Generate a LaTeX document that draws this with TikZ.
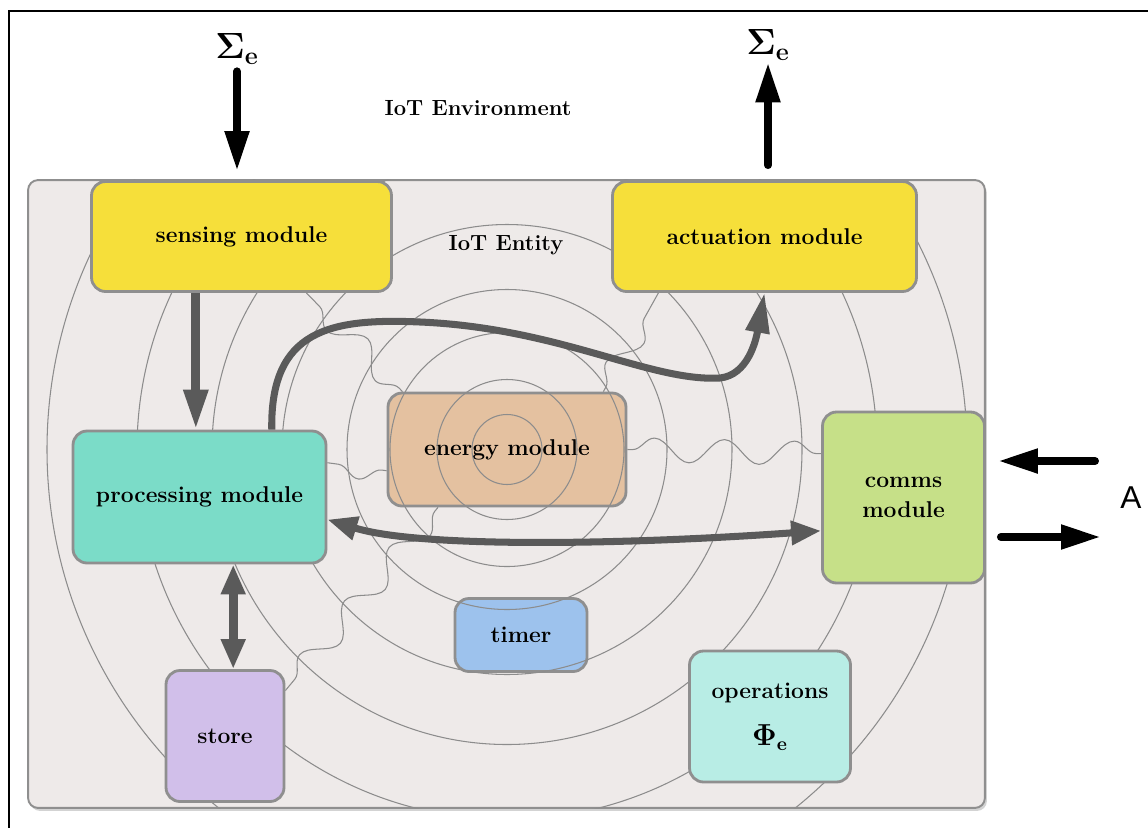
\documentclass[tikz,border=0pt]{standalone}
\usepackage[no-math]{fontspec}
\newfontfamily\labelfont{Liberation Sans}
\usetikzlibrary{arrows.meta,decorations.pathmorphing,shadows}
\pgfdeclarelayer{bottom}
\pgfdeclarelayer{back}
\pgfsetlayers{bottom,back,main}
\definecolor{modyellow}{RGB}{246,223,58}
\definecolor{modteal}{RGB}{123,220,200}
\definecolor{modorange}{RGB}{228,193,160}
\definecolor{modgreen}{RGB}{198,224,136}
\definecolor{modblue}{RGB}{157,194,237}
\definecolor{modlilac}{RGB}{209,191,234}
\definecolor{modaqua}{RGB}{184,237,229}
\definecolor{entfill}{RGB}{238,234,233}
\definecolor{bordergray}{RGB}{143,143,143}
\definecolor{arrgray}{RGB}{90,90,90}
\definecolor{ringgray}{RGB}{140,140,140}
\begin{document}
\begin{tikzpicture}[x=0.02cm,y=-0.02cm]
	\tikzstyle{MOD}=[rectangle,rounded corners=0.28cm,draw=bordergray,line width=1.6pt,inner sep=0pt,align=center,font=\fontsize{13}{17}\selectfont\bfseries]
	\tikzstyle{ENT}=[rectangle,rounded corners=0.2cm,draw=bordergray,line width=1.1pt,fill=entfill,drop shadow={shadow xshift=0.4mm,shadow yshift=-0.6mm,opacity=0.35}]
	\tikzstyle{TXT}=[font=\fontsize{12.5}{15}\selectfont\bfseries]
	\tikzstyle{SIG}=[font=\fontsize{20}{24}\selectfont,inner sep=1pt]
	\tikzstyle{RING}=[draw=ringgray,line width=0.6pt]
	\tikzstyle{WIG}=[draw=ringgray,line width=0.6pt,decorate,decoration={snake,amplitude=0.24cm,segment length=1.4cm,pre length=0.1cm,post length=0.1cm}]
	\tikzstyle{ARR}=[draw=arrgray,line width=5pt,-{Triangle[length=0.8cm,width=0.46cm]}]
	\tikzstyle{CRV}=[draw=arrgray,line width=4pt,-{Triangle[length=0.8cm,width=0.46cm]}]
	\tikzstyle{BOTH}=[{Triangle[length=0.6cm,width=0.46cm]}-{Triangle[length=0.6cm,width=0.46cm]}]
	\tikzstyle{BLK}=[draw=black,line width=4.5pt,line cap=round,-{Triangle[length=0.8cm,width=0.46cm]}]

	\useasboundingbox (0,0) rectangle (1148,828);
	\draw[line width=1.1pt] (1148,11) -- (9,11) -- (9,828);

	\begin{pgfonlayer}{bottom}
	\node[ENT,minimum width=19.14cm,minimum height=12.56cm] (ent) at (506.5,494) {};
	\node[MOD,fill=modorange,minimum width=4.76cm,minimum height=2.26cm] (energy) at (507,449.5) {energy module};
	\node[MOD,fill=modblue,minimum width=2.64cm,minimum height=1.46cm] (timer) at (521,635) {timer};
	\end{pgfonlayer}

	\node[TXT] (env) at (478,108) {IoT Environment};
	\node[TXT] (entity) at (506,245) {IoT Entity};

	\node[MOD,fill=modyellow,minimum width=6cm,minimum height=2.2cm] (sens) at (241.5,236.5) {sensing module};
	\node[MOD,fill=modyellow,minimum width=6.08cm,minimum height=2.2cm] (act) at (764.5,236.5) {actuation module};
	\node[MOD,fill=modteal,minimum width=5.06cm,minimum height=2.64cm] (proc) at (199.5,497) {processing module};
	\node[MOD,fill=modgreen,minimum width=3.24cm,minimum height=3.42cm] (comms) at (903.5,497.5) {comms\\module};
	\node[MOD,fill=modlilac,minimum width=2.36cm,minimum height=2.62cm] (store) at (225,736) {store};
	\node[MOD,fill=modaqua,minimum width=3.22cm,minimum height=2.62cm] (ops) at (770,716.5) {operations\\[10pt]{\fontsize{16}{18}\selectfont$\mathbf{\Phi_e}$}};

	\node[SIG] (sigin) at (237,49) {$\mathbf{\Sigma_e}$};
	\node[SIG] (sigout) at (768,45) {$\mathbf{\Sigma_e}$};
	\node[font=\labelfont\fontsize{18}{20}\selectfont] (A) at (1131,498) {A};
	\coordinate (ain) at (1095,461);
	\coordinate (aout) at (1101,537);

	% rings round the energy module
	\begin{pgfonlayer}{back}
	\begin{scope}
	\clip[rounded corners=0.2cm] (ent.north west) rectangle (ent.south east);
	\foreach \r in {35,70,117,160,225,295,370,460}
		\draw[RING] (energy.center) circle (\r);
	\end{scope}
	\path
	(energy.151) edge[WIG] (sens.-41)
	(energy.31) edge[WIG] (act.208)
	(energy.east) edge[WIG] (comms.152)
	(energy.190) edge[WIG] (proc.15)
	(energy.220) edge[WIG] (store.37)
	;
	\end{pgfonlayer}

	\draw[ARR] (sens.231) -- (sens.231 |- proc.north);
	\draw[ARR,BOTH] (store.83) -- (store.83 |- proc.south);
	\draw[CRV] (proc.43) .. controls (270,330) and (330,318) .. (420,322) .. controls (560,328) and (650,382) .. (720,378) .. controls (748,375) and (756,340) .. (act.south);
	\draw[CRV,BOTH] (proc.-10) .. controls (420,548) and (620,545) .. (comms.202);

	\draw[BLK,shorten >=0.16cm,shorten <=0.1cm] (sigin.south) -- (sigin.south |- ent.north);
	\draw[BLK,shorten <=0.28cm] (sigout.south |- ent.north) -- (sigout.south);
	\draw[BLK,shorten >=0.24cm] (ain) -- (ain -| comms.east);
	\draw[BLK,shorten <=0.3cm] (aout -| comms.east) -- (aout);
\end{tikzpicture}
\end{document}
